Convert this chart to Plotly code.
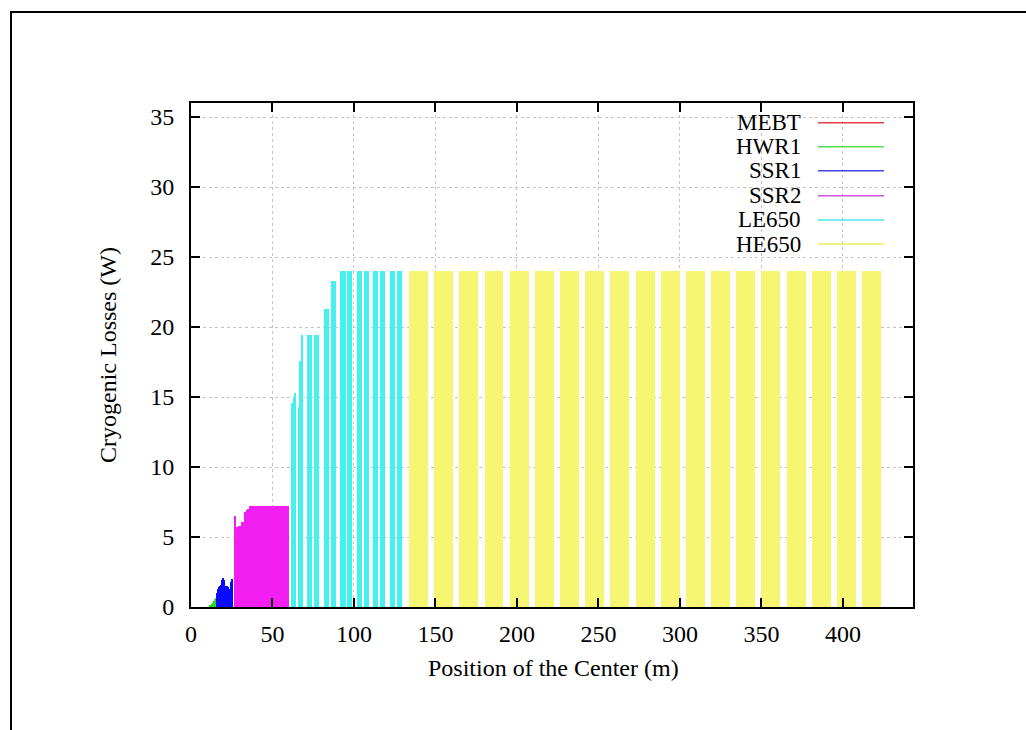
import plotly.graph_objects as go

# ---------------- data (cavity centre position in m, cryogenic loss in W) -------------
MEBT_x = [2.0, 4.0, 6.0, 8.0]
MEBT_y = [0.0, 0.0, 0.0, 0.0]

HWR1_x = [11.8, 12.3, 12.8, 13.3, 13.8, 14.3, 14.8, 15.3]
HWR1_y = [0.10, 0.15, 0.25, 0.30, 0.40, 0.45, 0.55, 0.65]

SSR1_x = [15.9, 16.5, 17.1, 17.8, 18.4, 19.0, 19.7, 20.3,
          20.9, 21.6, 22.2, 22.8, 23.5, 24.1, 24.7, 25.3]
SSR1_y = [1.0, 1.3, 1.4, 1.5, 1.6, 1.9, 2.1, 1.9,
          1.5, 1.4, 1.5, 1.4, 1.3, 1.2, 1.8, 2.0]

SSR2_x = [26.8, 27.65, 28.5, 29.35, 30.2,
          31.65, 32.5, 33.35, 34.2, 35.05,
          36.5, 37.35, 38.2, 39.05, 39.9,
          41.35, 42.2, 43.05, 43.9, 44.75,
          46.2, 47.05, 47.9, 48.75, 49.6,
          51.05, 51.9, 52.75, 53.6, 54.45,
          55.9, 56.75, 57.6, 58.45, 59.3]
SSR2_y = [6.5, 5.7, 5.7, 5.8, 5.8,
          6.1, 6.1, 6.8, 6.9, 7.0,
          7.2, 7.2, 7.2, 7.2, 7.2,
          7.2, 7.2, 7.2, 7.2, 7.2,
          7.2, 7.2, 7.2, 7.2, 7.2,
          7.2, 7.2, 7.2, 7.2, 7.2,
          7.2, 7.2, 7.2, 7.2, 7.2]

LE650_x = [62.3, 63.2, 64.1, 66.4, 67.3, 68.2,
           71.9, 72.8, 73.7, 76.0, 76.9, 77.8,
           82.3, 83.2, 84.1, 86.4, 87.3, 88.2,
           92.5, 93.4, 94.3, 96.6, 97.5, 98.4,
           102.6, 103.5, 104.4, 106.7, 107.6, 108.5,
           112.7, 113.6, 114.5, 116.8, 117.7, 118.6,
           122.9, 123.8, 124.7, 127.0, 127.9, 128.8]
LE650_y = [14.6, 15.0, 15.3, 14.3, 17.6, 19.4,
           19.4, 19.4, 19.4, 19.4, 19.4, 19.4,
           21.3, 21.3, 21.3, 23.3, 23.3, 23.3,
           24.0, 24.0, 24.0, 24.0, 24.0, 24.0,
           24.0, 24.0, 24.0, 24.0, 24.0, 24.0,
           24.0, 24.0, 24.0, 24.0, 24.0, 24.0,
           24.0, 24.0, 24.0, 24.0, 24.0, 24.0]

HE650_x = [134.5, 135.9, 137.4, 138.8, 140.2, 141.6, 143.1, 144.5,
           150.0, 151.4, 152.9, 154.3, 155.7, 157.1, 158.6, 160.0,
           165.4, 166.8, 168.3, 169.7, 171.1, 172.5, 174.0, 175.4,
           180.9, 182.3, 183.8, 185.2, 186.6, 188.0, 189.5, 190.9,
           196.3, 197.7, 199.2, 200.6, 202.0, 203.4, 204.9, 206.3,
           211.8, 213.2, 214.7, 216.1, 217.5, 218.9, 220.4, 221.8,
           227.2, 228.6, 230.1, 231.5, 232.9, 234.3, 235.8, 237.2,
           242.7, 244.1, 245.6, 247.0, 248.4, 249.8, 251.3, 252.7,
           258.1, 259.5, 261.0, 262.4, 263.8, 265.2, 266.7, 268.1,
           273.6, 275.0, 276.5, 277.9, 279.3, 280.7, 282.2, 283.6,
           289.0, 290.4, 291.9, 293.3, 294.7, 296.1, 297.6, 299.0,
           304.5, 305.9, 307.4, 308.8, 310.2, 311.6, 313.1, 314.5,
           319.9, 321.3, 322.8, 324.2, 325.6, 327.0, 328.5, 329.9,
           335.4, 336.8, 338.3, 339.7, 341.1, 342.5, 344.0, 345.4,
           350.8, 352.2, 353.7, 355.1, 356.5, 357.9, 359.4, 360.8,
           366.3, 367.7, 369.2, 370.6, 372.0, 373.4, 374.9, 376.3,
           381.7, 383.1, 384.6, 386.0, 387.4, 388.8, 390.3, 391.7,
           397.2, 398.6, 400.1, 401.5, 402.9, 404.3, 405.8, 407.2,
           412.6, 414.0, 415.5, 416.9, 418.3, 419.7, 421.2, 422.6]
HE650_y = [24.0] * len(HE650_x)

x_ticks = [0, 50, 100, 150, 200, 250, 300, 350, 400]
y_ticks = [0, 5, 10, 15, 20, 25, 30, 35]

# ---------------- style ---------------------------------------------------------------
FONT = "Liberation Serif"
FS = 24
series = [
    ("MEBT", MEBT_x, MEBT_y, "#ff0000", "#e04040", 0.5),
    ("HWR1", HWR1_x, HWR1_y, "#22dd22", "#55dd55", 0.6),
    ("SSR1", SSR1_x, SSR1_y, "#0a0aff", "#4444e8", 0.7),
    ("SSR2", SSR2_x, SSR2_y, "#f21ef2", "#cc55dd", 0.8),
    ("LE650", LE650_x, LE650_y, "#45f0f0", "#44e8e8", 1.0),
    ("HE650", HE650_x, HE650_y, "#f6f673", "#eeee55", 1.6),
]

fig = go.Figure()
for name, xs, ys, col, _, w in series:
    fig.add_trace(go.Bar(x=xs, y=ys, width=w, name=name, showlegend=False,
                         marker=dict(color=col, line=dict(width=0))))

# plot area in pixels: left 191, right 913, top 103, bottom 607
L, R, T, B = 191, 113, 103, 123
W, H = 1026, 730
pw, ph = W - L - R, H - T - B

def px(x):
    return (x - L) / pw

def py(y):
    return (H - B - y) / ph

shapes = []
annotations = []
# gnuplot-like key: text right aligned, line sample to the right
key_rows = [122.7, 146.7, 170.7, 195.7, 220.0, 244.0]
for (name, _, _, _, lcol, _), yy in zip(series, key_rows):
    annotations.append(dict(x=px(803), y=py(yy), xref="paper", yref="paper",
                            text=name, showarrow=False, xanchor="right",
                            yanchor="middle", font=dict(family=FONT, size=23, color="black")))
    shapes.append(dict(type="line", xref="paper", yref="paper",
                       x0=px(818), x1=px(884), y0=py(yy), y1=py(yy),
                       line=dict(color=lcol, width=1.5)))

# outer frame of the page
shapes.append(dict(type="rect", xref="paper", yref="paper",
                   x0=px(11), x1=px(1040), y0=py(745), y1=py(12),
                   line=dict(color="black", width=2), layer="above"))

# axis titles
annotations.append(dict(x=px(553), y=py(668), xref="paper", yref="paper",
                        text="Position of the Center (m)", showarrow=False,
                        xanchor="center", yanchor="middle",
                        font=dict(family=FONT, size=FS, color="black")))
annotations.append(dict(x=px(108), y=py(355), xref="paper", yref="paper",
                        text="Cryogenic Losses (W)", showarrow=False, textangle=-90,
                        xanchor="center", yanchor="middle",
                        font=dict(family=FONT, size=FS, color="black")))

axis_common = dict(showline=True, linecolor="black", linewidth=2, mirror="ticks",
                   ticks="inside", ticklen=9, tickwidth=2, tickcolor="black",
                   showgrid=True, gridcolor="#c4c4c4", griddash="dot", gridwidth=1,
                   zeroline=False, tickfont=dict(family=FONT, size=FS, color="black"))

fig.update_xaxes(range=[0, 443], tickvals=x_ticks, ticktext=[str(v) for v in x_ticks],
                 ticklabelstandoff=4, **axis_common)
fig.update_yaxes(range=[0, 36], tickvals=y_ticks, ticktext=[str(v) for v in y_ticks],
                 ticklabelstandoff=10, **axis_common)

fig.update_layout(width=W, height=H, margin=dict(l=L, r=R, t=T, b=B, autoexpand=False),
                  paper_bgcolor="white", plot_bgcolor="white",
                  barmode="overlay", bargap=0, showlegend=False,
                  shapes=shapes, annotations=annotations,
                  font=dict(family=FONT, size=FS, color="black"))

fig.write_html("out.html")
